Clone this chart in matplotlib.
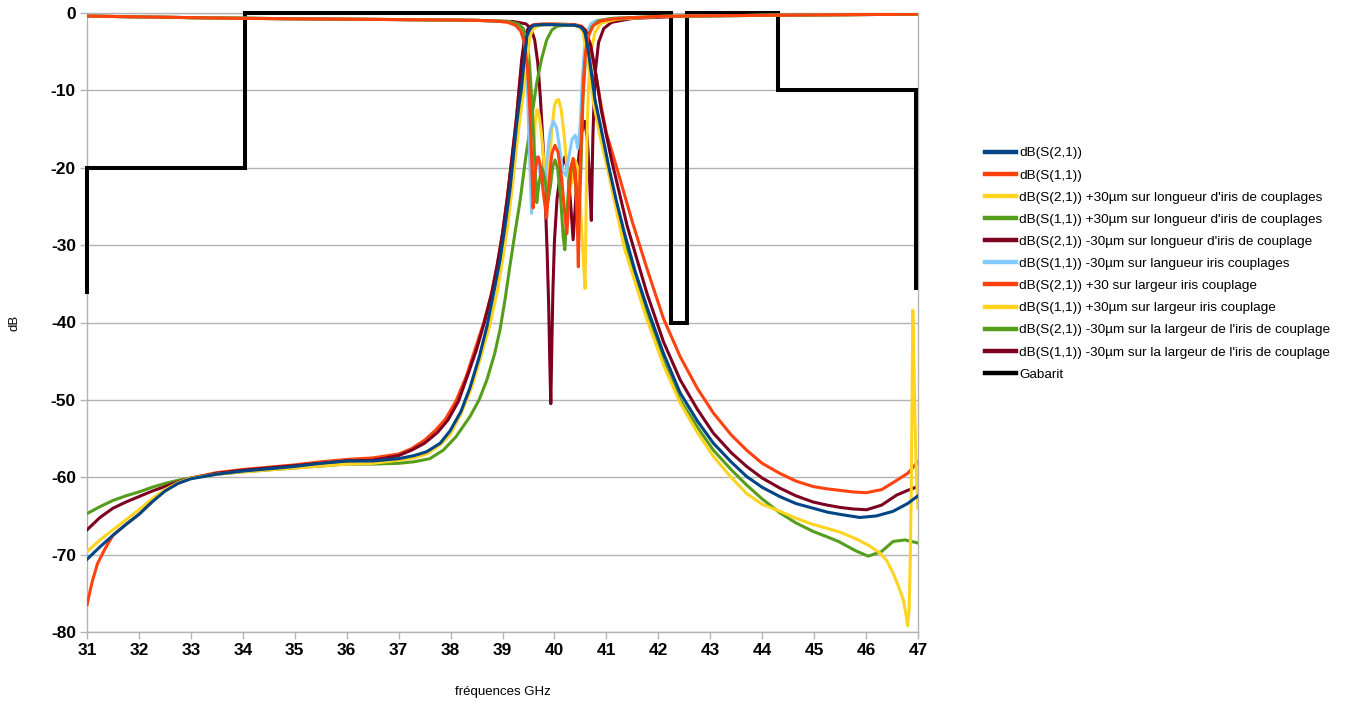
import matplotlib
matplotlib.use("Agg")
import matplotlib.pyplot as plt
from matplotlib.lines import Line2D

# ---- data (frequency in GHz, level in dB) ----
f_s21 = [31, 31.25, 31.5, 31.75, 32, 32.25, 32.5, 32.75, 33, 33.5, 34, 34.5, 35, 35.5, 36, 36.5, 37,
         37.3, 37.54, 37.8, 37.99, 38.2, 38.37, 38.55, 38.7, 38.85, 38.95, 39.05, 39.14, 39.21,
         39.27, 39.32, 39.36, 39.42, 39.47, 39.53, 39.6, 39.8, 40.0, 40.2, 40.4, 40.5, 40.55, 40.59,
         40.65, 40.72, 40.78, 40.9, 41.05, 41.2, 41.35, 41.55, 41.78, 42.1, 42.42, 42.75, 43.06,
         43.4, 43.7, 44.0, 44.34, 44.65, 44.98, 45.25, 45.5, 45.88, 46.2, 46.52, 46.8, 47.0]
db_s21 = [-70.6, -69.0, -67.5, -66.1, -64.8, -63.2, -61.8, -60.8, -60.2, -59.6, -59.2, -58.9, -58.6,
          -58.2, -57.9, -57.9, -57.6, -57.2, -56.7, -55.6, -54.0, -51.5, -48.5, -44.5, -40.5, -35.5,
          -32.0, -27.5, -23.0, -18.5, -14.5, -11.8, -10.0, -6.0, -3.0, -2.0, -1.6, -1.5, -1.5, -1.55,
          -1.6, -1.8, -2.1, -2.6, -4.8, -8.2, -11.2, -15.0, -20.0, -24.5, -28.5, -33.3, -38.0, -44.0,
          -49.1, -52.7, -55.6, -58.0, -59.9, -61.3, -62.5, -63.4, -64.0, -64.5, -64.8, -65.2, -65.0,
          -64.4, -63.4, -62.4]

f_s11 = [31, 32, 33, 34, 35, 36, 37, 38, 38.8, 39.1, 39.25, 39.35, 39.42, 39.48, 39.52, 39.56, 39.59,
         39.62, 39.66, 39.69, 39.73, 39.79, 39.85, 39.9, 39.95, 40.01, 40.07, 40.14, 40.2, 40.24,
         40.28, 40.32, 40.36, 40.4, 40.44, 40.46, 40.49, 40.53, 40.56, 40.6, 40.65, 40.75, 40.9,
         41.2, 42, 43, 44, 45, 46, 47]
db_s11 = [-0.4, -0.5, -0.6, -0.7, -0.75, -0.8, -0.85, -0.9, -1.0, -1.2, -1.6, -2.3, -3.8, -7.0,
          -11.5, -18.5, -25.2, -21.0, -18.8, -18.6, -19.8, -23.5, -26.5, -21.5, -18.2, -17.1, -18.0,
          -21.5, -26.0, -28.5, -24.0, -20.0, -18.8, -20.5, -27.0, -32.8, -22.0, -13.5, -8.7, -5.0,
          -3.0, -1.6, -1.0, -0.7, -0.45, -0.35, -0.3, -0.25, -0.2, -0.15]

f_s21_long_p = [31, 31.25, 31.5, 31.75, 32, 32.25, 32.5, 32.75, 33, 33.5, 34, 35, 36, 36.5, 37, 37.3,
                37.54, 37.8, 37.99, 38.2, 38.4, 38.58, 38.75, 38.9, 39.0, 39.1, 39.19, 39.26, 39.32,
                39.37, 39.41, 39.47, 39.53, 39.6, 39.7, 39.9, 40.1, 40.3, 40.45, 40.5, 40.55, 40.65,
                40.75, 40.88, 41.05, 41.35, 41.78, 42.1, 42.42, 42.75, 43.06, 43.4, 43.7, 44.0,
                44.34, 44.65, 44.98, 45.25, 45.5, 45.82, 46.05, 46.27, 46.4, 46.52, 46.62, 46.72,
                46.77, 46.8, 46.83, 46.85, 46.87, 46.88, 46.9, 46.92, 46.94, 46.97, 47.0]
db_s21_long_p = [-69.6, -68.1, -66.8, -65.5, -64.2, -62.8, -61.6, -60.7, -60.1, -59.6, -59.3, -58.8,
                 -58.3, -58.2, -57.8, -57.5, -57.0, -55.8, -54.5, -51.8, -48.5, -44.5, -40.5, -36.0,
                 -32.0, -27.5, -22.5, -18.0, -14.5, -12.0, -10.0, -6.0, -3.0, -2.0, -1.6, -1.5,
                 -1.5, -1.55, -1.7, -1.9, -2.5, -6.5, -11.5, -16.0, -21.0, -30.5, -39.6, -45.5,
                 -50.4, -54.2, -57.3, -60.0, -62.1, -63.5, -64.4, -65.3, -66.1, -66.6, -67.1, -68.0,
                 -68.8, -69.8, -70.8, -72.4, -74.0, -75.9, -77.8, -79.2, -77.0, -71.0, -62.0, -54.0,
                 -38.4, -45.0, -52.0, -60.0, -64.0]

f_s11_long_p = [31, 33, 35, 37, 38.5, 39.1, 39.3, 39.4, 39.47, 39.52, 39.57, 39.62, 39.66, 39.7,
                39.76, 39.82, 39.87, 39.92, 39.97, 40.01, 40.06, 40.12, 40.17, 40.2, 40.23, 40.28,
                40.33, 40.38, 40.43, 40.47, 40.51, 40.55, 40.6, 40.65, 40.72, 40.85, 41.1, 42, 44, 47]
db_s11_long_p = [-0.4, -0.6, -0.75, -0.85, -0.95, -1.1, -1.4, -2.0, -3.5, -6.5, -12.0, -19.0, -24.5,
                 -22.0, -20.0, -21.5, -24.5, -22.5, -19.8, -19.0, -20.0, -24.0, -29.0, -30.6, -27.0,
                 -21.5, -19.5, -20.5, -24.0, -26.5, -20.0, -11.0, -5.5, -3.0, -1.8, -1.0, -0.7,
                 -0.45, -0.3, -0.15]

f_s21_long_m = [31, 31.25, 31.5, 31.75, 32, 32.25, 32.5, 32.75, 33, 33.5, 34, 35, 36, 36.5, 37, 37.25,
                37.5, 37.75, 37.95, 38.15, 38.32, 38.5, 38.65, 38.8, 38.9, 39.0, 39.09, 39.16, 39.22,
                39.27, 39.31, 39.37, 39.43, 39.5, 39.6, 39.8, 40.0, 40.2, 40.4, 40.52, 40.6, 40.7,
                40.8, 40.9, 41.1, 41.4, 41.78, 42.1, 42.42, 42.75, 43.06, 43.4, 43.7, 44.0, 44.34,
                44.65, 44.98, 45.25, 45.5, 45.75, 46.01, 46.3, 46.59, 46.8, 47.0]
db_s21_long_m = [-66.8, -65.2, -64.0, -63.2, -62.5, -61.8, -61.2, -60.6, -60.1, -59.5, -59.1, -58.5,
                 -57.9, -57.8, -57.2, -56.5, -55.6, -54.2, -52.6, -50.2, -47.0, -43.5, -40.0, -36.0,
                 -32.5, -28.5, -24.0, -20.0, -16.5, -13.5, -10.5, -6.0, -3.0, -1.9, -1.6, -1.5, -1.5,
                 -1.5, -1.6, -1.8, -2.3, -4.2, -8.0, -12.5, -19.0, -27.5, -36.2, -42.5, -47.4, -51.2,
                 -54.3, -56.8, -58.6, -60.1, -61.4, -62.4, -63.2, -63.6, -63.9, -64.1, -64.2, -63.6,
                 -62.3, -61.7, -61.2]

f_s11_long_m = [31, 33, 35, 37, 38.5, 39.1, 39.3, 39.38, 39.44, 39.48, 39.52, 39.56, 39.6, 39.64,
                39.68, 39.74, 39.8, 39.86, 39.92, 39.98, 40.04, 40.1, 40.16, 40.22, 40.28, 40.34,
                40.4, 40.45, 40.5, 40.54, 40.58, 40.63, 40.7, 40.8, 41.1, 42, 44, 47]
db_s11_long_m = [-0.4, -0.6, -0.75, -0.85, -0.95, -1.1, -1.5, -2.5, -5.0, -10.0, -18.0, -25.9, -21.0,
                 -18.5, -19.0, -21.5, -23.0, -18.5, -15.2, -14.0, -14.8, -17.5, -20.5, -21.0, -18.5,
                 -16.3, -15.8, -17.5, -14.0, -8.0, -4.5, -2.5, -1.4, -1.0, -0.7, -0.45, -0.3, -0.15]

f_s21_larg_p = [31, 31.1, 31.2, 31.35, 31.5, 31.75, 32, 32.25, 32.5, 32.75, 33, 33.5, 34, 34.5, 35,
                35.5, 36, 36.5, 37, 37.25, 37.5, 37.7, 37.9, 38.1, 38.3, 38.47, 38.64, 38.78, 38.9,
                39.0, 39.09, 39.16, 39.22, 39.27, 39.31, 39.38, 39.44, 39.52, 39.6, 39.8, 40.0, 40.2,
                40.4, 40.52, 40.6, 40.7, 40.8, 40.9, 41.0, 41.2, 41.5, 41.78, 42.1, 42.42, 42.75,
                43.06, 43.4, 43.7, 44.0, 44.34, 44.65, 44.98, 45.25, 45.5, 45.75, 46.0, 46.3, 46.59,
                46.8, 47.0]
db_s21_larg_p = [-76.5, -73.5, -71.2, -69.2, -67.5, -66.1, -64.8, -63.2, -61.7, -60.8, -60.1, -59.4,
                 -59.0, -58.7, -58.4, -58.0, -57.7, -57.5, -57.0, -56.3, -55.2, -54.0, -52.5, -50.2,
                 -47.0, -43.5, -40.0, -36.5, -32.5, -28.5, -24.0, -20.0, -16.5, -13.5, -10.5, -6.0,
                 -3.0, -1.8, -1.5, -1.4, -1.4, -1.45, -1.5, -1.7, -2.2, -4.5, -8.0, -12.0, -15.5,
                 -20.0, -27.0, -33.0, -39.5, -44.4, -48.5, -51.7, -54.5, -56.5, -58.2, -59.5, -60.5,
                 -61.2, -61.5, -61.7, -61.9, -62.0, -61.6, -60.4, -59.5, -58.0]

f_s11_larg_p = [31, 33, 35, 37, 38.5, 39.1, 39.3, 39.38, 39.44, 39.48, 39.52, 39.56, 39.58, 39.6,
                39.63, 39.66, 39.7, 39.75, 39.8, 39.86, 39.9, 39.95, 40.0, 40.04, 40.08, 40.13,
                40.19, 40.25, 40.3, 40.35, 40.4, 40.45, 40.5, 40.55, 40.59, 40.61, 40.63, 40.66,
                40.7, 40.78, 40.9, 41.2, 42, 44, 47]
db_s11_larg_p = [-0.4, -0.6, -0.75, -0.85, -0.95, -1.1, -1.5, -2.5, -5.0, -9.0, -15.0, -22.0, -24.0,
                 -19.0, -14.0, -12.5, -13.0, -15.5, -19.5, -23.5, -20.0, -15.0, -12.0, -11.3, -11.2,
                 -12.5, -16.0, -20.5, -22.8, -21.0, -19.0, -20.0, -25.0, -31.0, -35.6, -25.0, -15.0,
                 -9.0, -5.0, -2.5, -1.3, -0.8, -0.45, -0.3, -0.15]

f_s21_larg_m = [31, 31.25, 31.5, 31.75, 32, 32.25, 32.5, 32.75, 33, 33.5, 34, 35, 36, 36.5, 37, 37.3,
                37.6, 37.86, 38.1, 38.37, 38.55, 38.7, 38.85, 38.95, 39.05, 39.14, 39.25, 39.34,
                39.45, 39.55, 39.66, 39.75, 39.85, 39.95, 40.05, 40.2, 40.4, 40.52, 40.58, 40.62,
                40.7, 40.78, 40.9, 41.05, 41.35, 41.78, 42.1, 42.42, 42.75, 43.06, 43.4, 43.7, 44.0,
                44.34, 44.65, 44.98, 45.25, 45.47, 45.8, 46.04, 46.3, 46.52, 46.75, 47.0]
db_s21_larg_m = [-64.7, -63.8, -63.0, -62.4, -61.9, -61.3, -60.8, -60.4, -60.1, -59.6, -59.3, -58.8,
                 -58.3, -58.3, -58.2, -58.0, -57.6, -56.5, -54.8, -52.2, -50.0, -47.4, -44.0, -41.0,
                 -37.0, -32.8, -28.0, -24.2, -18.5, -14.0, -9.0, -6.0, -3.5, -2.2, -1.7, -1.6, -1.6,
                 -1.8, -2.3, -3.0, -7.0, -11.5, -16.0, -20.5, -29.5, -38.8, -45.0, -50.0, -53.5,
                 -56.5, -59.0, -61.0, -62.8, -64.6, -65.9, -67.0, -67.7, -68.3, -69.5, -70.2, -69.6,
                 -68.3, -68.1, -68.5]

f_s11_larg_m = [31, 33, 35, 37, 38.5, 39.2, 39.45, 39.55, 39.62, 39.68, 39.73, 39.78, 39.82, 39.86,
                39.89, 39.91, 39.93, 39.95, 39.97, 40.0, 40.05, 40.12, 40.2, 40.26, 40.31, 40.36,
                40.41, 40.47, 40.52, 40.58, 40.63, 40.67, 40.71, 40.74, 40.78, 40.85, 40.95, 41.1,
                41.5, 42.5, 44, 47]
db_s11_larg_m = [-0.4, -0.6, -0.75, -0.85, -0.95, -1.1, -1.4, -2.0, -3.5, -6.5, -11.0, -17.0, -23.5,
                 -31.0, -38.0, -45.0, -50.5, -43.0, -36.0, -29.5, -24.0, -20.5, -18.6, -20.5, -24.5,
                 -29.3, -24.0, -18.5, -15.5, -14.0, -16.0, -20.5, -26.8, -16.0, -8.0, -3.8, -2.0,
                 -1.2, -0.7, -0.4, -0.3, -0.15]

f_gabarit = [31, 31, 34.05, 34.05, 42.25, 42.25, 42.55, 42.55, 44.3, 44.3, 46.96, 46.96]
db_gabarit = [-36, -20, -20, 0, 0, -40, -40, 0, 0, -10, -10, -35.5]

labels = [
    "dB(S(2,1))",
    "dB(S(1,1))",
    "dB(S(2,1)) +30\u00b5m sur longueur d'iris de couplages",
    "dB(S(1,1)) +30\u00b5m sur longueur d'iris de couplages",
    "dB(S(2,1)) -30\u00b5m sur longueur d'iris de couplage",
    "dB(S(1,1)) -30\u00b5m sur langueur iris couplages",
    "dB(S(2,1)) +30 sur largeur iris couplage",
    "dB(S(1,1)) +30\u00b5m sur largeur iris couplage",
    "dB(S(2,1)) -30\u00b5m sur la largeur de l'iris de couplage",
    "dB(S(1,1)) -30\u00b5m sur la largeur de l'iris de couplage",
    "Gabarit",
]
colors = ["#004586", "#ff420e", "#ffd320", "#579d1c", "#7e0021", "#83caff",
          "#ff420e", "#ffd320", "#579d1c", "#7e0021", "#000000"]
series = [
    (f_s21, db_s21), (f_s11, db_s11),
    (f_s21_long_p, db_s21_long_p), (f_s11_long_p, db_s11_long_p),
    (f_s21_long_m, db_s21_long_m), (f_s11_long_m, db_s11_long_m),
    (f_s21_larg_p, db_s21_larg_p), (f_s11_larg_p, db_s11_larg_p),
    (f_s21_larg_m, db_s21_larg_m), (f_s11_larg_m, db_s11_larg_m),
    (f_gabarit, db_gabarit),
]

plt.rcParams["axes.unicode_minus"] = False
plt.rcParams["font.family"] = ["Liberation Sans", "DejaVu Sans"]

fig = plt.figure(figsize=(13.49, 7.02), dpi=100)
ax = fig.add_axes([87 / 1349, 1 - 632 / 702, (918 - 87) / 1349, (632 - 13) / 702])

n = len(series)
for i, ((f, db), c) in enumerate(zip(series, colors)):
    is_gab = labels[i] == "Gabarit"
    ax.plot(f, db, color=c, lw=2.9 if is_gab else 2.2, zorder=20 + n - i,
            clip_on=not is_gab, solid_joinstyle="miter" if is_gab else "round")

ax.set_xlim(31, 47)
ax.set_ylim(-80, 0)
ax.set_xticks(range(31, 48))
ax.set_yticks(range(-80, 1, 10))
ax.grid(axis="y", color="#b3b3b3", lw=1.0)
ax.set_axisbelow(True)
for side in ["left", "right", "bottom", "top"]:
    ax.spines[side].set_color("#b3b3b3")
    ax.spines[side].set_linewidth(1.0)
ax.tick_params(axis="both", color="#b3b3b3", length=5, width=1.0, pad=3)
for lab in ax.get_xticklabels() + ax.get_yticklabels():
    lab.set_fontweight("bold")
    lab.set_fontsize(12.5)

ax.set_xlabel("fréquences GHz", fontsize=9.5, labelpad=20)
ax.set_ylabel("dB", fontsize=9.5)
ax.yaxis.set_label_coords(-0.08, 0.5)

handles = [Line2D([], [], color=c, lw=3.2) for c in colors]
fig.legend(handles, labels, loc="upper left", bbox_to_anchor=(985 / 1349, 1 - 147 / 702),
           frameon=False, fontsize=9.7, handlelength=2.3, handletextpad=0.25,
           labelspacing=0.72, borderaxespad=0, borderpad=0)

fig.savefig("out.png", dpi=100)
